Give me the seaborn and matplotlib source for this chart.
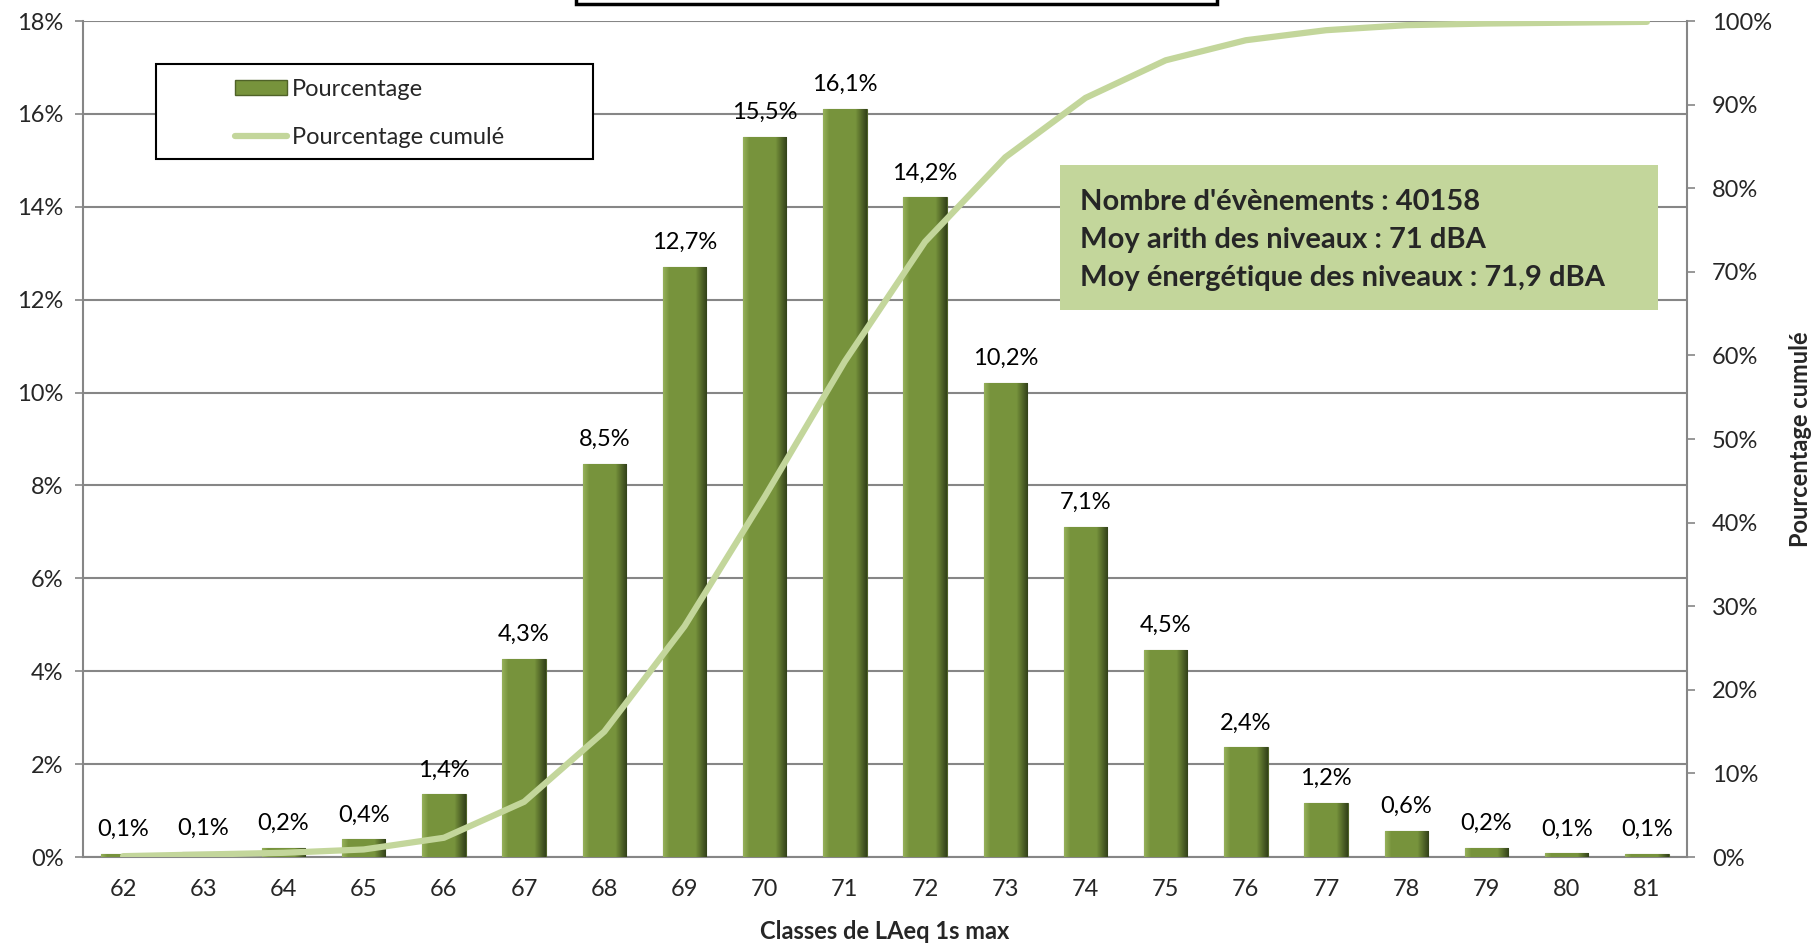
import numpy as np
import pandas as pd
import matplotlib
matplotlib.use("Agg")
import matplotlib.pyplot as plt
from matplotlib.patches import Rectangle
from matplotlib.colors import LinearSegmentedColormap
from matplotlib.lines import Line2D
from matplotlib.ticker import MultipleLocator, FuncFormatter
import seaborn as sns

classes = ["62", "63", "64", "65", "66", "67", "68", "69", "70", "71",
           "72", "73", "74", "75", "76", "77", "78", "79", "80", "81"]
pourcentage = [0.06, 0.1, 0.2, 0.38, 1.35, 4.26, 8.46, 12.7, 15.5, 16.1,
               14.2, 10.2, 7.1, 4.46, 2.36, 1.17, 0.56, 0.2, 0.08, 0.06]
cumule = [0.1, 0.3, 0.5, 0.9, 2.3, 6.6, 15.0, 27.6, 43.1, 59.3,
          73.6, 83.7, 90.8, 95.3, 97.7, 98.9, 99.5, 99.7, 99.8, 99.9]
stats_lines = ["Nombre d'évènements : 40158",
               "Moy arith des niveaux : 71 dBA",
               "Moy énergétique des niveaux : 71,9 dBA"]

sns.set_theme(style="white")
plt.rcParams["font.family"] = ["Lato", "DejaVu Sans"]

df = pd.DataFrame({"classe": classes, "pct": pourcentage, "cum": cumule})

W, H = 1812, 946
fig = plt.figure(figsize=(W / 100, H / 100), dpi=100)
ax = fig.add_axes([83 / W, 1 - 857 / H, (1687 - 83) / W, (857 - 21) / H])

grid_col = "#868686"
bar_col = "#77933C"
line_col = "#C3D69B"
fs = 17

sns.barplot(data=df, x="classe", y="pct", color=bar_col, width=0.54,
            saturation=1, edgecolor="#4F6228", linewidth=0.8, ax=ax, zorder=3)

# bevel-like shading inside each bar
prof = np.concatenate([np.linspace(0.8, 0.5, 8), np.full(30, 0.5),
                       np.linspace(0.5, 0.0, 14)])
cmap = LinearSegmentedColormap.from_list("bev", ["#34431A", "#77933C", "#A9C46E"])
grad = np.tile(prof, (2, 1))
for p in ax.patches:
    x0, y0, w, h = p.get_x(), p.get_y(), p.get_width(), p.get_height()
    im = ax.imshow(grad, cmap=cmap, vmin=0, vmax=1, aspect="auto",
                   extent=(x0, x0 + w, y0, y0 + h), zorder=3.5,
                   interpolation="bilinear")
    im.set_clip_path(p)

for p, v in zip(ax.patches, pourcentage):
    ax.text(p.get_x() + p.get_width() / 2, p.get_height() + 0.3,
            f"{v:.1f}%".replace(".", ","), ha="center", va="bottom",
            fontsize=fs, color="black", zorder=5)

ax.set_xlim(-0.5, len(classes) - 0.5)
ax.set_ylim(0, 18)
ax.yaxis.set_major_locator(MultipleLocator(2))
ax.yaxis.set_major_formatter(FuncFormatter(lambda v, _: f"{v:.0f}%"))
ax.grid(axis="y", color=grid_col, linewidth=1.5, zorder=0)
ax.set_axisbelow(True)
ax.set_xlabel("Classes de LAeq 1s max", fontsize=fs, fontweight="bold", labelpad=14)
ax.set_ylabel("")
ax.set_xticks(np.arange(-0.5, len(classes)), minor=True)
ax.tick_params(axis="x", which="major", length=0, labelsize=fs, pad=16)
ax.tick_params(axis="x", which="minor", length=8, color=grid_col, width=1.2, direction="out")
ax.tick_params(axis="y", labelsize=fs, length=6, color=grid_col, width=1.2,
               direction="out", left=True, pad=8)
for s in ["left", "bottom", "right"]:
    ax.spines[s].set_color(grid_col)
    ax.spines[s].set_linewidth(1.5)
ax.spines["top"].set_visible(False)

ax2 = ax.twinx()
sns.lineplot(x=np.arange(len(classes)), y=df["cum"], color=line_col,
             linewidth=4.5, ax=ax2, zorder=6, solid_capstyle="round")
ax2.set_ylim(0, 100)
ax2.yaxis.set_major_locator(MultipleLocator(10))
ax2.yaxis.set_major_formatter(FuncFormatter(lambda v, _: f"{v:.0f}%"))
ax2.tick_params(axis="y", labelsize=fs, length=6, color=grid_col, width=1.2,
                direction="out", right=True, pad=12)
ax2.set_ylabel("Pourcentage cumulé", fontsize=fs, fontweight="bold", labelpad=12)
for s in ["left", "bottom", "right", "top"]:
    ax2.spines[s].set_visible(False)
ax2.set_xlim(ax.get_xlim())

# legend: frame drawn separately, entries without frame
fig.patches.append(Rectangle((156 / W, 1 - 159 / H), (593 - 156) / W, (159 - 64) / H,
                             transform=fig.transFigure, facecolor="white",
                             edgecolor="black", linewidth=1.5, zorder=9))
handles = [Rectangle((0, 0), 1, 1, facecolor=bar_col, edgecolor="#4F6228"),
           Line2D([0], [0], color=line_col, linewidth=4.5)]
leg = fig.legend(handles, ["Pourcentage", "Pourcentage cumulé"],
                 loc="upper left", bbox_to_anchor=(235 / W, 1 - 79 / H),
                 bbox_transform=fig.transFigure, fontsize=fs, frameon=False,
                 borderpad=0, handlelength=2.2, handleheight=0.6,
                 handletextpad=0.2, labelspacing=1.15, borderaxespad=0)
leg.set_zorder(10)

# statistics box
fig.patches.append(Rectangle((1060 / W, 1 - 310 / H), (1658 - 1060) / W, (310 - 165) / H,
                             transform=fig.transFigure, facecolor=line_col,
                             edgecolor="none", zorder=8))
fig.text(1080 / W, 1 - 240 / H, "\n".join(stats_lines), fontsize=21,
         fontweight="bold", va="center", ha="left", linespacing=1.55, zorder=9)

# cut-off title box at the top
fig.patches.append(Rectangle((576 / W, 1 - 4 / H), (1217 - 576) / W, 0.05,
                             transform=fig.transFigure, facecolor="white",
                             edgecolor="black", linewidth=2.5, zorder=9))

fig.savefig("out.png", dpi=100)
